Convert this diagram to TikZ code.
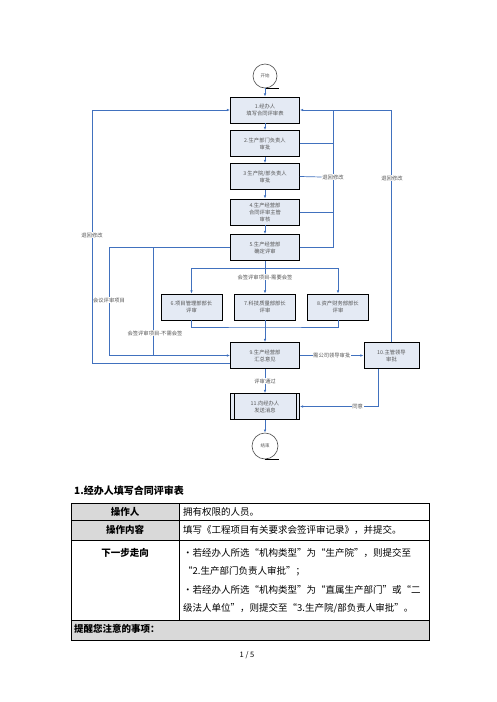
\documentclass[tikz,border=0pt]{standalone}
\usepackage{fontspec}
\setmainfont{Noto Sans CJK SC}
\usepackage{xcolor}
\usetikzlibrary{arrows.meta,calc}
\definecolor{flowblue}{RGB}{65,113,190}
\definecolor{boxfill}{RGB}{228,234,244}
\definecolor{cellgray}{RGB}{217,217,217}
\definecolor{labgray}{RGB}{85,85,85}
\tikzset{
  stepbox/.style={draw=black, line width=0.9pt, fill=boxfill, minimum width=69, minimum height=26,
    inner sep=1pt, align=center, text=labgray, font=\fontsize{5.3}{7}\selectfont},
  term/.style={circle, draw=black!70, line width=0.6pt, fill=white, minimum size=24, inner sep=0pt,
    text=labgray, font=\fontsize{4.5}{5}\selectfont},
  flow/.style={draw=flowblue, line width=0.7pt},
  arr/.style={flow, -{Latex[length=3.2pt,width=2.6pt]}},
  lab/.style={fill=white, inner sep=0.6pt, text=labgray, font=\fontsize{5.3}{6}\selectfont},
  cellhead/.style={font=\bfseries\fontsize{9.5}{11}\selectfont, inner sep=0pt},
  cell/.style={font=\fontsize{9.5}{11}\selectfont, inner sep=0pt, anchor=west}
}
\begin{document}
\begin{tikzpicture}[x=1pt,y=-1pt]
\useasboundingbox (0,0) rectangle (496,702);

\node[term] (start) at (265,76) {开始};
\node[stepbox] (b1) at (265,110) {1.经办人\\填写合同评审表};
\node[stepbox] (b2) at (265,143.5) {2.生产部门负责人\\审批};
\node[stepbox] (b3) at (265,176.5) {3 生产院/部负责人\\审批};
\node[stepbox] (b4) at (265,212) {4.生产经营部\\合同评审主管\\审核};
\node[stepbox] (b5) at (265,247.5) {5.生产经营部\\确定评审};
\node[stepbox, minimum width=61] (b6) at (191.5,307) {6.项目管理部部长\\评审};
\node[stepbox, minimum width=61] (b7) at (265,307) {7.科技质量部部长\\评审};
\node[stepbox, minimum width=61] (b8) at (338,307) {8.资产财务部部长\\评审};
\node[stepbox] (b9) at (265,355.5) {9.生产经营部\\汇总意见};
\node[stepbox, minimum width=55] (b10) at (391.5,355.5) {10.主管领导\\审批};
\node[stepbox] (b11) at (265,406.5) {11.向经办人\\发送消息};
\node[term, minimum size=26] (end) at (265,446) {结束};
\draw[line width=0.9pt] ($(b11.north west)+(4,0)$) -- ($(b11.south west)+(4,0)$)
  ($(b11.north east)+(-4,0)$) -- ($(b11.south east)+(-4,0)$);
\draw[line width=0.8pt] (start.south) -- ++(14,0);
\draw[line width=0.8pt] (end.south) -- ++(14,0);

\coordinate (rr) at (333,110);
\coordinate (rl) at (92,110);
\coordinate (split) at (265,268);
\coordinate (join) at (265,327);
\coordinate (m1) at (109,355.5);
\coordinate (m2) at (153,355.5);
\coordinate (l9) at ($(b9.west)+(0,7.5)$);
\coordinate (t10) at ($(b10.south)+(-13.5,0)$);

\draw[arr] (start) -- (b1);
\foreach \a/\b in {b1/b2,b2/b3,b3/b4,b4/b5}
  \draw[arr] (\a) -- (\b);
\draw[arr] (b5.east) -| (rr) -- (b1.east);
\draw[flow] (b2.east) -- (b2.east -| rr);
\draw[flow] (b4.east) -- (b4.east -| rr);
\node[lab] (r3) at (333,177) {退回修改};
\draw[flow] (b3.east) -- (r3.west);
\draw[flow] (b10.north) |- (rr);
\node[lab] (r10) at (392,178) {退回修改};
\draw[arr] (l9) -| (rl) -- (b1.west);
\node[lab] (r9) at (92,235) {退回修改};

\draw[arr] (b5.west) -| (m1) -- (b9.west);
\draw[flow] (m2 |- b5.west) -- (m2);
\node[lab] (q1) at (109,300) {会议评审项目};
\node[lab] (q2) at (155,333) {会签评审项目-不需会签};

\draw[flow] (b5.south) -- (split);
\draw[arr] (split) -| (b6.north);
\draw[arr] (split) -| (b8.north);
\draw[arr] (split) -- (b7.north);
\node[lab] (q3) at (265,277) {会签评审项目-需要会签};
\draw[flow] (b6.south) |- (join) -| (b8.south);
\draw[arr] (b7.south) -- (b9.north);

\draw[arr] (b9.east) -- node[lab] {需公司领导审批} (b10.west);
\draw[arr] (t10) |- node[lab, pos=0.63] {同意} (b11.east);
\draw[arr] (b9.south) -- node[lab] {评审通过} (b11.north);
\draw[arr] (b11.south) -- (end.north);

\node[anchor=west, font=\bfseries\fontsize{10}{12}\selectfont, inner sep=0pt] (title) at (74,491) {1.经办人填写合同评审表};
\fill[cellgray] (71,503) rectangle (179,540);
\fill[cellgray] (71,620) rectangle (429,640);
\draw[line width=0.8pt] (71,503) rectangle (429,640);
\foreach \y in {520,540,620}
  \draw[line width=0.8pt] (71,\y) -- (429,\y);
\draw[line width=0.8pt] (179,503) -- (179,620);

\node[cellhead] (h1) at (125,511.5) {操作人};
\node[cell] (c1) at (183,511.5) {拥有权限的人员。};
\node[cellhead] (h2) at (125,530) {操作内容};
\node[cell] (c2) at (183,530) {填写《工程项目有关要求会签评审记录》，并提交。};
\node[cellhead] (h3) at (125,553) {下一步走向};
\node[cell] (n1) at (183,553) {·若经办人所选“机构类型”为“生产院”，则提交至};
\node[cell] (n2) at (183,571.5) {“2.生产部门负责人审批”；};
\node[cell] (n3) at (183,590) {·若经办人所选“机构类型”为“直属生产部门”或“二};
\node[cell] (n4) at (183,608.5) {级法人单位”，则提交至“3.生产院/部负责人审批”。};
\node[cellhead, anchor=west] (h4) at (74,629) {提醒您注意的事项：};

\node[font=\fontsize{7.5}{9}\selectfont, inner sep=0pt] (page) at (247,655) {1 / 5};
\end{tikzpicture}
\end{document}
